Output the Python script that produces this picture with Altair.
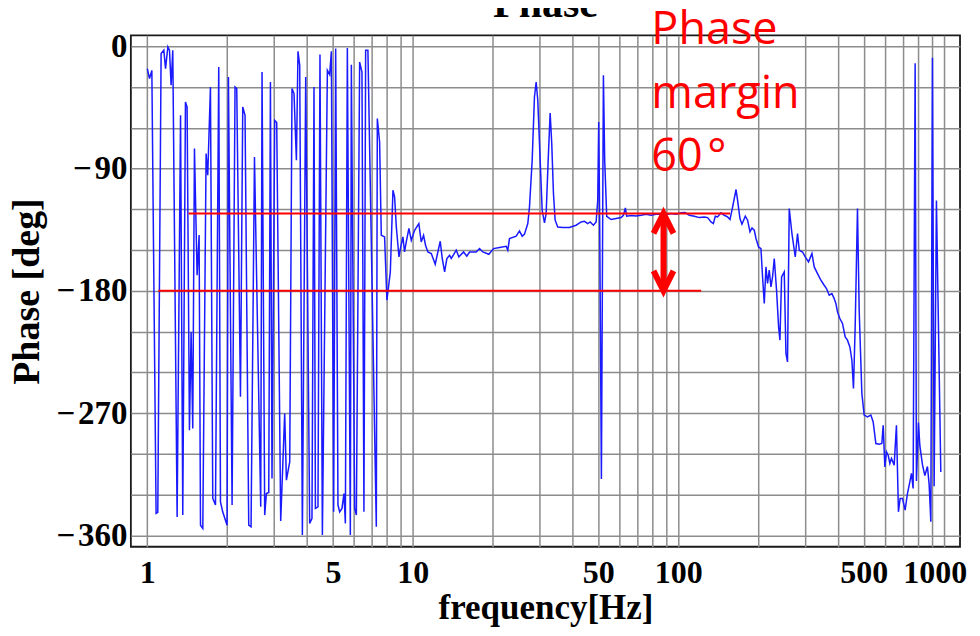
import altair as alt
import pandas as pd

# ---- blue phase trace ----
freq = [
    1.000, 1.019, 1.040, 1.079, 1.095, 1.127, 1.154, 1.171, 1.195, 1.212, 1.229, 1.247,
    1.295, 1.334, 1.360, 1.392, 1.412, 1.441, 1.462, 1.483, 1.505, 1.540, 1.567, 1.586,
    1.618, 1.665, 1.689, 1.729, 1.764, 1.806, 1.858, 1.886, 1.923, 1.997, 2.021, 2.086,
    2.140, 2.172, 2.243, 2.288, 2.334, 2.410, 2.459, 2.533,
    2.674, 2.705, 2.768, 2.809, 2.867, 2.909, 2.949, 3.019, 3.072, 3.180, 3.292, 3.341,
    3.439, 3.508, 3.569, 3.644, 3.695, 3.750, 3.838, 3.950, 4.089, 4.171, 4.245, 4.297,
    4.394, 4.471, 4.565, 4.767, 4.863, 4.935, 5.034, 5.123, 5.226, 5.304, 5.411, 5.505,
    5.572, 5.669, 5.818, 5.869, 6.040, 6.130, 6.307, 6.435, 6.546, 6.644, 6.776, 7.288,
    7.352, 7.499, 7.610, 7.830,
    7.99, 8.23, 8.42, 8.54, 8.67, 8.87, 8.98, 9.18, 9.31, 9.45, 9.67, 9.87, 10.16, 10.54,
    10.76, 10.98, 11.17, 11.40, 11.74, 12.15, 12.43, 12.69, 12.91, 13.18, 13.44, 13.76,
    13.96, 14.58, 14.91, 15.53, 15.98, 16.36, 17.34, 17.84, 18.36, 19.34, 20.15, 21.22,
    22.48, 22.80, 23.14, 24.52, 25.23, 25.83, 26.35, 27.12,
    27.52, 28.17, 28.73, 29.16, 29.57, 30.19, 30.72, 31.34, 31.80, 32.36, 32.92, 33.38,
    33.88, 34.38, 35.16, 36.72, 38.91, 41.23, 43.07, 44.33, 45.60, 46.56, 47.92, 49.05,
    49.74, 50.17, 50.61, 51.35, 52.25, 52.84, 53.77, 55.85, 58.34, 60.92, 62.15, 63.22,
    63.94, 66.40, 69.35, 72.44, 75.65, 79.00, 82.50, 86.15, 89.99, 93.96, 98.10, 102.4,
    106.1, 110.1, 115.0, 120.1, 125.4, 129.0, 132.9, 135.6, 137.9, 140.7, 144.9, 149.1,
    153.4, 156.7, 160.3, 165.1, 167.3, 170.8, 173.8,
    178.9, 182.5, 186.3, 189.6, 193.4, 196.3, 200.7, 204.9, 207.8, 210.9, 214.0, 217.0,
    220.2, 223.5, 226.6, 230.0, 234.6, 238.8, 241.6, 245.1, 250.8, 254.5, 258.0, 261.9,
    268.1, 275.9, 281.5, 285.7, 293.9, 300.9, 309.6, 318.9, 325.3, 334.7, 344.7, 354.6,
    361.8, 370.4, 379.1, 386.8, 392.5, 398.0, 406.3, 415.6, 425.5, 434.0, 443.2, 451.0,
    457.2, 464.0, 473.4, 480.4, 491.7, 501.6, 516.1, 531.6, 542.4, 555.2, 571.3, 584.8,
    591.5, 600.3, 608.7, 617.7, 626.9, 635.6, 650.7, 663.7, 675.3, 685.3, 699.2, 715.7,
    730.2, 745.5, 755.9, 767.1, 780.6, 789.4, 803.2, 813.1, 831.7, 849.1, 868.5, 881.4,
    894.4, 907.0, 920.4, 938.9, 975.2,
]
phase = [
    -16.4, -23.8, -17.7, -343.9, -343.1, -5.4, -2.9, -16.4, -0.5, -2.9, -28.7, -2.9,
    -346.4, -50.8, -345.1, -41.0, -44.7, -282.6, -210.2, -281.3, -75.3, -168.5, -139.0, -352.5,
    -354.9, -79.0, -94.9, -29.9, -332.8, -337.7, -15.2, -335.3, -342.7, -352.5, -22.6, -337.7,
    -29.9, -31.1, -258.0, -44.7, -50.8, -352.5, -353.7, -81.5,
    -339.0, -18.9, -345.1, -329.2, -328.4, -26.3, -318.1, -54.5, -56.1, -349.5, -270.3, -319.4,
    -305.9, -31.1, -34.8, -83.9, -3.7, -14.0, -359.8, -22.6, -351.2, -347.5, -29.9, -340.2,
    -339.0, -6.1, -359.8, -17.7, -20.8, -3.7, -342.7, -1.7, -337.7, -342.7, -340.2, -329.2,
    -351.2, -1.2, -359.8, -13.5, -340.2, -345.1, -11.6, -18.9, -342.7, -2.9, -2.9, -353.7,
    -53.2, -70.4, -139.1, -140.3,
    -186.9, -166.1, -106.0, -110.9, -133.0, -155.0, -148.9, -140.3, -151.4, -144.0, -134.1, -142.8, -135.4, -130.5,
    -144.0, -139.1, -146.4, -151.4, -152.5, -160.4, -151.4, -143.5, -156.2, -166.1, -156.2, -153.8,
    -156.2, -150.1, -155.0, -151.4, -154.5, -151.4, -151.4, -148.9, -151.4, -153.1, -148.9, -148.1,
    -147.2, -150.1, -141.5, -139.8, -135.9, -139.8, -138.3, -130.5,
    -118.2, -83.9, -37.3, -26.3, -39.7, -83.9, -120.7, -130.0, -123.1, -83.9, -49.1, -71.6,
    -108.4, -128.0, -133.0, -133.4, -133.4, -131.7, -129.3, -128.8, -130.5, -129.3, -131.7, -129.3,
    -113.3, -55.7, -133.0, -318.6, -21.3, -83.9, -125.1, -127.5, -126.8, -126.1, -124.4, -119.0,
    -125.1, -124.6, -124.9, -124.4, -123.6, -124.4, -123.6, -123.6, -123.8, -123.1, -123.6, -122.6,
    -122.4, -124.4, -125.1, -126.1, -125.6, -126.1, -129.3, -130.5, -125.1, -125.6, -122.6, -124.4,
    -125.6, -127.5, -118.2, -105.4, -113.3, -126.8, -131.0,
    -125.1, -128.0, -136.6, -133.7, -135.4, -141.5, -147.7, -148.9, -169.8, -189.3, -162.4, -174.6,
    -164.8, -177.1, -169.8, -156.2, -179.5, -206.5, -216.3, -169.8, -166.1, -226.1, -232.3, -119.4,
    -137.8, -155.0, -137.8, -150.1, -151.4, -155.0, -158.7, -152.5, -162.4, -167.3, -172.2, -175.9,
    -178.3, -183.2, -182.0, -185.7, -189.3, -195.5, -200.4, -204.0, -213.9, -216.3, -221.3, -231.1,
    -251.9, -206.5, -119.4, -194.3, -255.6, -271.5, -272.8, -271.5, -276.5, -292.4, -292.9, -292.4,
    -278.9, -309.6, -298.5, -301.0, -307.1, -303.4, -308.3, -278.9, -342.7, -332.8, -332.8, -341.4,
    -329.2, -320.6, -314.4, -325.5, -12.4, -319.9, -277.0, -294.0, -308.0, -316.0, -309.3, -322.5,
    -350.0, -8.5, -323.8, -113.6, -313.3,
]

# ---- annotation values ----
margin_lines_phase = [-123.0, -180.0]
margin_lines_from = [1.43, 1.10]
margin_lines_to = [156.7, 122.0]
arrow_freq = 88.0
annot_text = "Phase\nmargin\n60\u200a°"
annot_freq = 79.2
annot_phase = 2.0

x_grid = [1, 2, 3, 4, 5, 6, 7, 8, 9,
          10, 20, 30, 40, 50, 60, 70, 80, 90,
          100, 200, 300, 400, 500, 600, 700, 800, 900, 1000]
x_labels = [1, 5, 10, 50, 100, 500, 1000]
y_grid = list(range(-360, 1, 30))

W, H = 830, 512
serif = "Liberation Serif"

x_scale = alt.Scale(type="log", domain=[0.867, 1152], nice=False)
y_scale = alt.Scale(domain=[-368.4, 8.1], nice=False, zero=False)

x_axis = alt.Axis(
    values=x_grid,
    labelExpr="indexof([" + ",".join(str(v) for v in x_labels) + "], datum.value) >= 0 ? '' + datum.value : ''",
    title="frequency[Hz]",
    titleX=W / 2, titleY=72, titleAlign="center", titleBaseline="alphabetic",
    titleFont=serif, titleFontWeight="bold", titleFontSize=35, titleColor="black",
    labelFont=serif, labelFontWeight="bold", labelFontSize=32, labelColor="black",
    labelPadding=11, labelFlush=False, labelOverlap=False, labelBound=False,
    labelOffset=alt.condition("datum.value == 1000", alt.value(-9), alt.value(0)),
    ticks=False, domain=False,
    grid=True, gridColor="#8c8c8c", gridWidth=1.5, gridOpacity=1,
)
y_axis = alt.Axis(
    values=y_grid,
    labelExpr="datum.value % 90 == 0 ? (datum.value < 0 ? '\u2212\u200a' + (-datum.value) : '' + datum.value) : ''",
    title="Phase [deg]",
    titleX=-92, titleY=H / 2, titleAngle=-90, titleAlign="center", titleBaseline="alphabetic",
    titleFont=serif, titleFontWeight="bold", titleFontSize=38, titleColor="black",
    labelFont=serif, labelFontWeight="bold", labelFontSize=33, labelColor="black",
    labelPadding=4, labelOverlap=False, labelBound=False, labelBaseline="middle",
    ticks=False, domain=False,
    grid=True, gridColor="#8c8c8c", gridWidth=1.5, gridOpacity=1,
)

trace = pd.DataFrame({"f": freq, "p": phase})
base_line = alt.Chart(trace).mark_line(color="#1a1aff", strokeWidth=1.5).encode(
    x=alt.X("f:Q", scale=x_scale, axis=x_axis),
    y=alt.Y("p:Q", scale=y_scale, axis=y_axis),
    order="f:Q",
)

lines_df = pd.DataFrame({"f1": margin_lines_from, "f2": margin_lines_to, "p": margin_lines_phase})
red_lines = alt.Chart(lines_df).mark_rule(color="#ff0000", strokeWidth=2).encode(
    x=alt.X("f1:Q", scale=x_scale), x2="f2:Q", y=alt.Y("p:Q", scale=y_scale)
)

shaft_df = pd.DataFrame({"f": [arrow_freq], "p1": [margin_lines_phase[0]], "p2": [margin_lines_phase[1]]})
shaft = alt.Chart(shaft_df).mark_rule(color="#ff0000", strokeWidth=6, strokeCap="butt").encode(
    x=alt.X("f:Q", scale=x_scale), y=alt.Y("p1:Q", scale=y_scale), y2="p2:Q"
)

head_up = alt.Chart(pd.DataFrame({"f": [arrow_freq], "p": [margin_lines_phase[0]]})).mark_point(
    shape="M-0.5,1L0,0L0.5,1", size=1600, filled=False, strokeWidth=6, color="#ff0000",
    opacity=1, strokeJoin="miter", strokeCap="butt",
).encode(x=alt.X("f:Q", scale=x_scale), y=alt.Y("p:Q", scale=y_scale))

head_down = alt.Chart(pd.DataFrame({"f": [arrow_freq], "p": [margin_lines_phase[1]]})).mark_point(
    shape="M-0.5,-1L0,0L0.5,-1", size=1600, filled=False, strokeWidth=6, color="#ff0000",
    opacity=1, strokeJoin="miter", strokeCap="butt",
).encode(x=alt.X("f:Q", scale=x_scale), y=alt.Y("p:Q", scale=y_scale))

annot = alt.Chart(pd.DataFrame({"f": [annot_freq], "p": [annot_phase], "t": [annot_text]})).mark_text(
    align="left", baseline="alphabetic", font="Open Sans", fontSize=45, color="#ff0000",
    lineBreak="\n", lineHeight=64,
).encode(x=alt.X("f:Q", scale=x_scale), y=alt.Y("p:Q", scale=y_scale), text="t:N")

title = alt.Chart(pd.DataFrame({"t": ["Phase"]})).mark_text(
    align="center", baseline="alphabetic", font=serif, fontWeight="bold", fontSize=42, color="black",
).encode(x=alt.value(W / 2), y=alt.value(-18), text="t:N")

chart = alt.layer(base_line, red_lines, shaft, head_up, head_down, annot, title).properties(
    width=W, height=H,
    autosize=alt.AutoSizeParams(type="none"),
    padding={"left": 123, "top": 27, "right": 12, "bottom": 81},
    background="white",
).configure_view(stroke="#1a1a1a", strokeWidth=1.8)

chart.save("out.html", embed_options={"renderer": "svg", "actions": False})
